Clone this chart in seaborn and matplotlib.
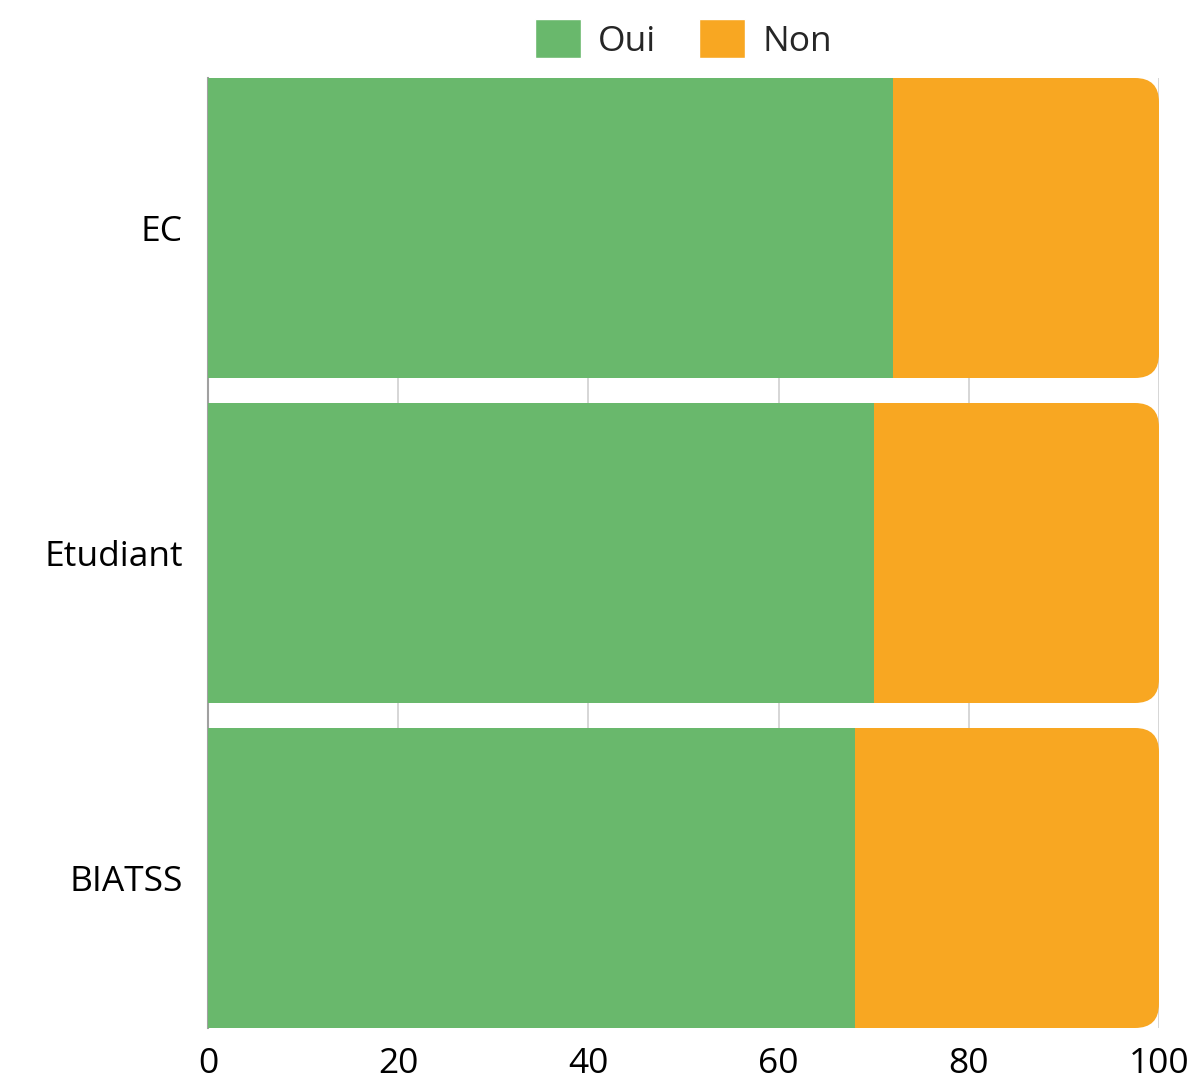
import numpy as np
import pandas as pd
import seaborn as sns
import matplotlib.pyplot as plt
from matplotlib.patches import FancyBboxPatch, Patch

categories = ["EC", "Etudiant", "BIATSS"]
oui = [72, 70, 68]
non = [28, 30, 32]

green = "#69B86C"
orange = "#F8A722"

df = pd.DataFrame({"cat": categories, "oui": oui, "non": non})
df["total"] = df["oui"] + df["non"]

sns.set_style("white")
plt.rcParams["font.family"] = ["Open Sans", "DejaVu Sans"]

fig = plt.figure(figsize=(11.95, 10.83), dpi=100)
ax = fig.add_axes([208 / 1195, 1 - 1028 / 1083, (1159 - 208) / 1195, (1028 - 78) / 1083])

bw = 300 / 325
# full bars (Non) first, then Oui on top
sns.barplot(data=df, y="cat", x="total", color=orange, width=bw, orient="h", ax=ax,
            saturation=1, linewidth=0)
sns.barplot(data=df, y="cat", x="oui", color=green, width=bw, orient="h", ax=ax,
            saturation=1, linewidth=0)

ax.set_xlim(0, 100)
ax.set_ylim(2 + bw / 2, -bw / 2)

# round the right end of the orange bars
n = len(categories)
px_x = ax.get_position().width * 1195 / 100
px_y = ax.get_position().height * 1083 / (2 + bw)
r = 24 / px_x
for p in list(ax.patches[:n]):
    x, y, w, h = p.get_x(), p.get_y(), p.get_width(), p.get_height()
    fb = FancyBboxPatch((x, y), w, h, boxstyle=f"round,pad=0,rounding_size={r}",
                        mutation_aspect=px_x / px_y, facecolor=orange, edgecolor="none", zorder=2)
    p.remove()
    ax.add_patch(fb)
for p in ax.patches[:n]:
    p.set_zorder(3)

ax.set_xticks([0, 20, 40, 60, 80, 100])
ax.grid(axis="x", color="#D0D0D0", linewidth=1.2, zorder=0)
ax.set_axisbelow(True)
for s in ["top", "right", "bottom"]:
    ax.spines[s].set_visible(False)
ax.spines["left"].set_color("#A0A0A0")
ax.spines["left"].set_linewidth(1.5)
ax.tick_params(axis="both", length=0, labelsize=25.5, colors="black")
ax.tick_params(axis="x", pad=14)
ax.tick_params(axis="y", pad=18)
ax.set_xlabel("")
ax.set_ylabel("")

handles = [Patch(facecolor=green, label="Oui"), Patch(facecolor=orange, label="Non")]
ax.legend(handles=handles, loc="lower center", bbox_to_anchor=(0.5, 1.0), ncol=2, frameon=False,
          fontsize=25.5, handlelength=1.3, handleheight=1.3, handletextpad=0.5, columnspacing=1.2,
          borderaxespad=0.15)

fig.savefig("out.png", dpi=100)
